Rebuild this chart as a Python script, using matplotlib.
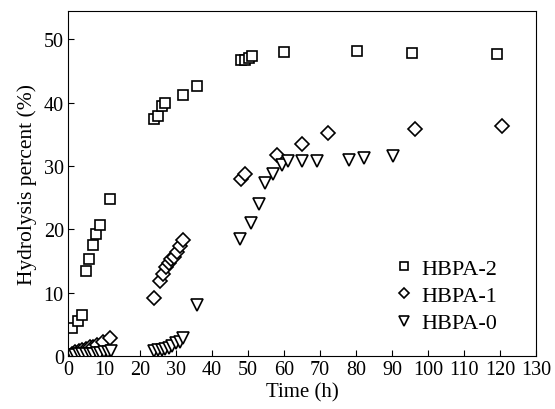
import matplotlib
matplotlib.use('Agg')
import matplotlib.pyplot as plt

plt.rcParams['font.family'] = ['Liberation Serif', 'DejaVu Serif']

# HBPA-2 (squares)
t2 = [1.1, 2.8, 3.9, 5.0, 5.8, 7.0, 7.8, 8.9, 11.7, 23.9, 25.0, 26.1, 27.0,
      32.0, 35.8, 48.0, 49.2, 50.3, 51.0, 60.0, 80.3, 95.5, 119.0]
h2 = [4.4, 5.5, 6.5, 13.5, 15.3, 17.6, 19.2, 20.7, 24.8, 37.5, 37.9, 39.5, 39.9,
      41.3, 42.7, 46.7, 46.8, 47.0, 47.3, 48.0, 48.1, 47.8, 47.7]

# HBPA-1 (diamonds)
t1 = [1.0, 2.0, 3.0, 4.0, 5.0, 6.0, 7.0, 8.0, 9.7, 11.7,
      24.0, 25.5, 26.4, 27.2, 28.0, 28.6, 29.5, 30.3, 31.1, 32.0,
      48.0, 49.2, 58.0, 65.0, 72.2, 96.4, 120.5]
h1 = [0.3, 0.6, 0.8, 1.0, 1.2, 1.4, 1.5, 1.7, 2.2, 2.8,
      9.1, 11.8, 12.9, 14.1, 14.7, 15.3, 15.7, 16.5, 17.4, 18.4,
      28.0, 28.8, 31.7, 33.5, 35.2, 35.8, 36.4]

# HBPA-0 (triangles)
t0 = [1.0, 2.0, 3.0, 4.0, 5.0, 6.0, 7.0, 8.0, 9.0, 10.0, 11.0, 12.0,
      24.0, 25.0, 26.0, 27.0, 28.0, 29.0, 30.0, 31.0, 32.0, 35.8,
      47.8, 50.8, 53.0, 54.7, 57.0, 59.4, 61.1, 65.0, 69.1, 78.0, 82.2, 90.2]
h0 = [0.2, 0.2, 0.3, 0.3, 0.3, 0.4, 0.4, 0.5, 0.5, 0.6, 0.7, 0.8,
      0.8, 0.9, 1.0, 1.1, 1.3, 1.6, 2.0, 2.3, 2.8, 8.0,
      18.5, 21.0, 24.0, 27.3, 28.7, 30.1, 30.8, 30.8, 30.8, 31.0, 31.3, 31.6]

fig = plt.figure(figsize=(5.55, 4.10), dpi=100)
ax = fig.add_axes([0.1225, 0.129, 0.8435, 0.842])

style = dict(linestyle='none', markerfacecolor='white', markeredgecolor='black',
             markeredgewidth=1.2, markersize=7.5)
ax.plot(t2, h2, marker='s', label='HBPA-2', **style)
ax.plot(t1, h1, marker='D', label='HBPA-1', **dict(style, markersize=7))
ax.plot(t0, h0, marker='v', label='HBPA-0', **dict(style, markersize=9))

ax.set_xlim(0, 130)
ax.set_ylim(0, 54.5)
ax.set_xticks(range(0, 131, 10))
ax.set_yticks(range(0, 51, 10))
ax.tick_params(direction='in', length=4, labelsize=14.5, top=False, right=False, pad=3)
ax.set_xlabel('Time (h)', fontsize=15, labelpad=2)
ax.set_ylabel('Hydrolysis percent (%)', fontsize=15.5, labelpad=5)

ax.legend(loc='lower right', bbox_to_anchor=(0.96, 0.008), frameon=False,
          fontsize=16, handletextpad=0.3, labelspacing=0.3, markerscale=0.8,
          handlelength=1.0)

fig.savefig('out.png', dpi=100)
